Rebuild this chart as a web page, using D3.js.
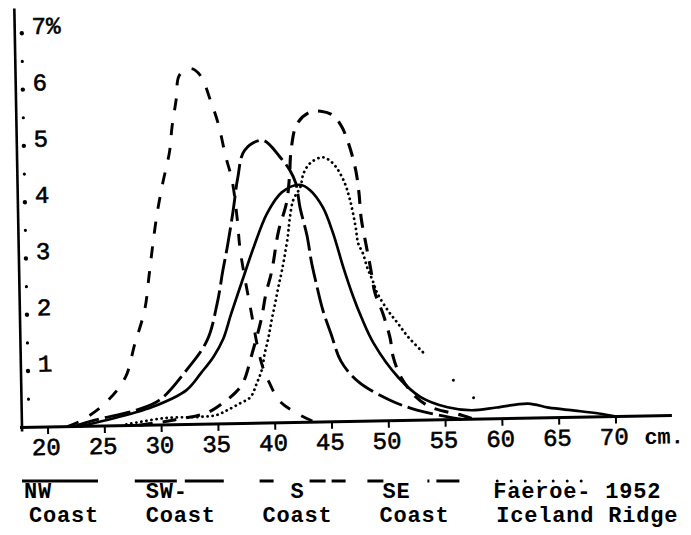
<!DOCTYPE html>
<html>
<head>
<meta charset="utf-8">
<script src="https://cdn.jsdelivr.net/npm/d3@7"></script>
<style>
  body { margin: 0; background: #fff; }
  text { font-family: "Liberation Mono", "DejaVu Sans Mono", monospace; fill: #000; }
</style>
</head>
<body>
<div id="chart"></div>
<script>
var width = 691;
var height = 535;

// axis labels
var xTicks = [20, 25, 30, 35, 40, 45, 50, 55, 60, 65, 70];
var yTicks = [1, 2, 3, 4, 5, 6, 7];
var yTickLabels = ["1", "2", "3", "4", "5", "6", "7%"];

// NW Coast (solid)
var nwCm  = [22.8, 25.1, 29.2, 32.25, 33.6, 34.7, 35.55, 36.3, 37.45, 38.4, 39.65, 40.95, 42.55, 43.45, 44.55, 45.4, 46.25, 47.1, 47.75, 48.8, 50.9, 52.85, 55.2, 57.3, 59.5, 62.3, 64.1, 66.4, 68.5, 70.0];
var nwPct = [0, 0.1, 0.32, 0.61, 0.92, 1.2, 1.5, 1.95, 2.6, 3.13, 3.73, 4.09, 4.22, 4.12, 3.81, 3.35, 2.74, 2.2, 1.85, 1.38, 0.77, 0.41, 0.22, 0.16, 0.2, 0.26, 0.18, 0.12, 0.06, 0];

// SW Coast (long dash)
var swCm  = [22.3, 24.2, 27.8, 29.85, 32.3, 34.15, 35.1, 35.65, 36.1, 36.65, 37.1, 37.75, 39.35, 40.85, 41.7, 42.2, 42.55, 43.1, 43.45, 43.8, 44.4, 45.05, 45.9, 47.35, 50.2, 52.5, 55.0, 56.5];
var swPct = [0, 0.11, 0.27, 0.44, 0.97, 1.49, 2.15, 2.73, 3.17, 3.79, 4.36, 4.85, 5.02, 4.72, 4.48, 4.25, 3.8, 3.32, 2.85, 2.5, 1.97, 1.57, 1.07, 0.71, 0.36, 0.18, 0.06, 0];

// S Coast (dashed, tall)
var sCm  = [21.7, 23.0, 25.15, 26.9, 27.75, 28.7, 29.15, 29.5, 29.95, 30.5, 31.15, 31.4, 31.8, 32.15, 33.15, 33.95, 34.9, 35.5, 36.05, 36.6, 37.0, 37.2, 38.0, 38.9, 39.65, 40.45, 42.2, 43.5];
var sPct = [0, 0.11, 0.42, 0.86, 1.43, 2.05, 2.67, 3.18, 3.76, 4.3, 4.86, 5.29, 5.76, 6.21, 6.32, 6.2, 5.7, 5.31, 4.77, 4.32, 3.61, 3.08, 2.06, 1.06, 0.67, 0.38, 0.13, 0];

// SE Coast (dashed)
var seCm  = [28.0, 31.0, 34.0, 35.15, 36.55, 37.25, 38.1, 38.95, 39.4, 39.95, 40.6, 41.35, 41.65, 41.85, 42.4, 43.5, 44.5, 45.6, 46.35, 46.95, 47.5, 47.75, 47.9, 48.3, 48.65, 49.0, 49.65, 50.25, 50.5, 51.15, 52.45, 53.7, 56.5, 57.5];
var sePct = [0, 0.08, 0.2, 0.33, 0.55, 0.73, 1.25, 1.85, 2.3, 2.7, 3.4, 3.9, 4.35, 4.85, 5.3, 5.5, 5.52, 5.44, 5.23, 4.91, 4.46, 4.05, 3.61, 3.12, 2.71, 2.27, 1.91, 1.47, 1.13, 0.77, 0.41, 0.23, 0.07, 0];

// Faeroe-Iceland Ridge 1952 (dotted)
var frCm  = [26.9, 30.3, 33.4, 34.9, 35.8, 36.95, 37.85, 38.45, 38.9, 39.2, 39.55, 39.85, 40.2, 40.5, 40.85, 41.4, 41.6, 41.95, 42.6, 42.9, 43.5, 44.6, 45.5, 46.4, 46.95, 47.4, 47.6, 48.0, 48.35, 48.8, 49.2, 50.1, 50.95, 51.85, 53.2, 55.75, 57.5];
var frPct = [0.02, 0.12, 0.13, 0.16, 0.24, 0.36, 0.46, 0.71, 0.94, 1.24, 1.52, 1.82, 2.13, 2.41, 2.71, 3.29, 3.6, 3.95, 4.18, 4.42, 4.6, 4.7, 4.59, 4.29, 3.93, 3.45, 3.16, 2.98, 2.73, 2.5, 2.27, 1.96, 1.73, 1.48, 1.19, 0.7, 0.38];

var legendNames = ["NW", "SW-", "S", "SE", "Faeroe- 1952"];
var legendSub = ["Coast", "Coast", "Coast", "Coast", "Iceland Ridge"];

var x = d3.scaleLinear().domain([20, 70]).range([48, 616]);
var y = d3.scaleLinear().domain([0, 7]).range([427, 32.9]);

var svg = d3.select("#chart").append("svg")
    .attr("width", width)
    .attr("height", height);

// the typed sheet sits slightly askew
var plot = svg.append("g").attr("transform", "rotate(-1.05, 48, 427)");

// axes
plot.append("line")
    .attr("x1", 22).attr("x2", 22)
    .attr("y1", 8).attr("y2", 431)
    .attr("stroke", "#000").attr("stroke-width", 2.6);
plot.append("line")
    .attr("x1", 20).attr("x2", 672)
    .attr("y1", y(0)).attr("y2", y(0))
    .attr("stroke", "#000").attr("stroke-width", 3);

// y ticks are typed dots
plot.selectAll(".ydot")
    .data(d3.range(0.5, 7.01, 0.5))
    .enter().append("circle")
    .attr("cx", 29)
    .attr("cy", function(d) { return y(d); })
    .attr("r", function(d) { return d % 1 === 0 ? 2.2 : 1.6; });

plot.selectAll(".ylab")
    .data(yTicks)
    .enter().append("text")
    .attr("x", 39)
    .attr("y", function(d) { return y(d) + 1; })
    .style("font-size", "24px")
    .style("stroke", "#000")
    .style("stroke-width", "0.6px")
    .text(function(d, i) { return yTickLabels[i]; });

// x ticks
plot.selectAll(".xtick")
    .data(xTicks)
    .enter().append("line")
    .attr("x1", function(d) { return x(d); })
    .attr("x2", function(d) { return x(d); })
    .attr("y1", y(0))
    .attr("y2", y(0) + 7)
    .attr("stroke", "#000").attr("stroke-width", 2);

plot.selectAll(".xlab")
    .data(xTicks)
    .enter().append("text")
    .attr("x", function(d) { return x(d) - 2; })
    .attr("y", 455)
    .attr("text-anchor", "middle")
    .style("font-size", "24px")
    .style("stroke", "#000")
    .style("stroke-width", "0.6px")
    .text(function(d) { return d; });

plot.append("text")
    .attr("x", 644)
    .attr("y", 455)
    .style("font-size", "22px")
    .style("font-weight", "bold")
    .text("cm.");

// curves
var line = d3.line()
    .x(function(d) { return x(d[0]); })
    .y(function(d) { return y(d[1]); })
    .curve(d3.curveCatmullRom.alpha(0.5));

var series = [
  { cm: nwCm, pct: nwPct, dash: null, w: 2.7 },
  { cm: swCm, pct: swPct, dash: "26,6", w: 2.9 },
  { cm: sCm, pct: sPct, dash: "12,13", w: 2.9 },
  { cm: seCm, pct: sePct, dash: "14,10", w: 3.1 },
];

series.forEach(function(s) {
  plot.append("path")
      .datum(d3.zip(s.cm, s.pct))
      .attr("d", line)
      .attr("fill", "none")
      .attr("stroke", "#000")
      .attr("stroke-width", s.w)
      .attr("stroke-dasharray", s.dash);
});

var fr = d3.zip(frCm, frPct);
plot.append("path")
    .datum(fr.filter(function(d) { return d[0] <= 53.2; }))
    .attr("d", line)
    .attr("fill", "none")
    .attr("stroke", "#000")
    .attr("stroke-width", 2.8)
    .attr("stroke-linecap", "round")
    .attr("stroke-dasharray", "0.1,5");
plot.selectAll(".frtail")
    .data(fr.filter(function(d) { return d[0] > 53.2; }))
    .enter().append("circle")
    .attr("cx", function(d) { return x(d[0]); })
    .attr("cy", function(d) { return y(d[1]); })
    .attr("r", 1.5);

// legend
var legend = svg.append("g");
var lx = function(i) { return 29 + i * 116.8; };
var nameOffset = [-5, 0, 28, 3, -3];
var sample = [
  { a: -7, b: 69, dash: null },
  { a: -11, b: 78, dash: "42,8" },
  { a: -3, b: 83, dash: "14,36,16,6,14,100" },
  { a: -12, b: 80, dash: "16,44,2,7,25,100" },
  { a: 1, b: 86, dash: "0,14", round: true }
];

legend.selectAll(".lline")
    .data(sample)
    .enter().append("line")
    .attr("x1", function(d, i) { return lx(i) + d.a; })
    .attr("x2", function(d, i) { return lx(i) + d.b; })
    .attr("y1", 481).attr("y2", 481)
    .attr("stroke", "#000")
    .attr("stroke-width", 3)
    .attr("stroke-linecap", function(d) { return d.round ? "round" : "butt"; })
    .attr("stroke-dasharray", function(d) { return d.dash; });

legend.selectAll(".lname")
    .data(legendNames)
    .enter().append("text")
    .attr("x", function(d, i) { return lx(i) + nameOffset[i]; })
    .attr("y", 498)
    .style("font-size", "22px")
    .style("font-weight", "bold")
    .style("letter-spacing", "0.8px")
    .text(function(d) { return d; });

legend.selectAll(".lsub")
    .data(legendSub)
    .enter().append("text")
    .attr("x", function(d, i) { return lx(i); })
    .attr("y", 522)
    .style("font-size", "22px")
    .style("font-weight", "bold")
    .style("letter-spacing", "0.8px")
    .text(function(d) { return d; });
</script>
</body>
</html>
